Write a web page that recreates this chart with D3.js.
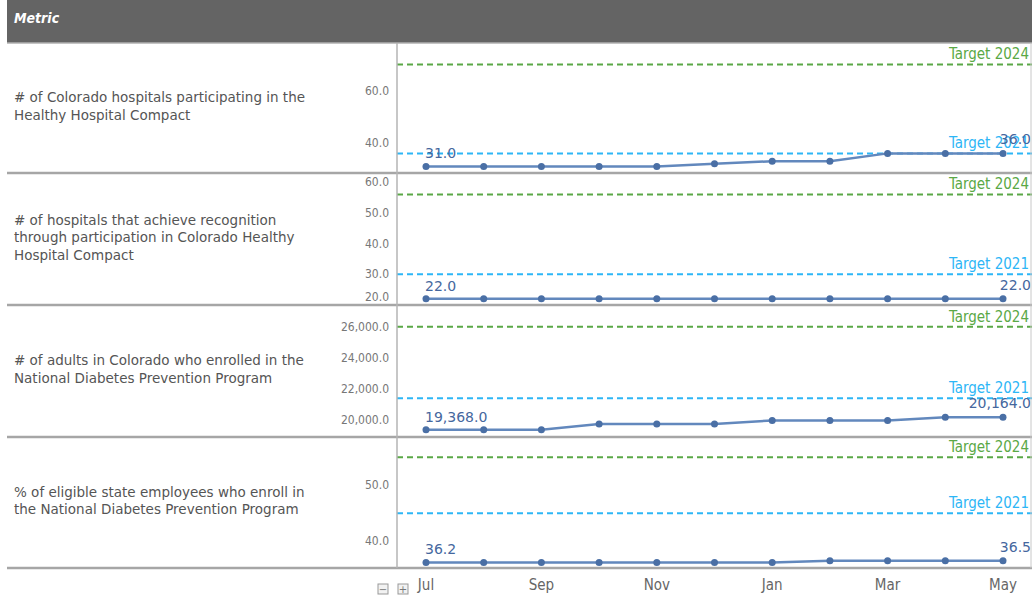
<!DOCTYPE html>
<html>
<head>
<meta charset="utf-8">
<script src="https://cdn.jsdelivr.net/npm/d3@7"></script>
<style>
body { margin: 0; background: #fff; }
svg { font-family: "DejaVu Sans", sans-serif; }
</style>
</head>
<body>
<svg width="1032" height="601"></svg>
<script>
// months on the x axis
const months = ["Jul","Aug","Sep","Oct","Nov","Dec","Jan","Feb","Mar","Apr","May"];
const shownMonths = ["Jul","Sep","Nov","Jan","Mar","May"];

const metricLabels = [
	["# of Colorado hospitals participating in the", "Healthy Hospital Compact"],
	["# of hospitals that achieve recognition", "through participation in Colorado Healthy", "Hospital Compact"],
	["# of adults in Colorado who enrolled in the", "National Diabetes Prevention Program"],
	["% of eligible state employees who enroll in", "the National Diabetes Prevention Program"]
];

const hospitalsParticipating = [31, 31, 31, 31, 31, 32, 33, 33, 36, 36, 36];
const hospitalsRecognized    = [22, 22, 22, 22, 22, 22, 22, 22, 22, 22, 22];
const adultsEnrolled         = [19368, 19368, 19368, 19740, 19740, 19740, 19970, 19970, 19970, 20164, 20164];
const employeesEnrolled      = [36.2, 36.2, 36.2, 36.2, 36.2, 36.2, 36.2, 36.5, 36.5, 36.5, 36.5];
const seriesList = [hospitalsParticipating, hospitalsRecognized, adultsEnrolled, employeesEnrolled];

const target2021 = [36, 30, 21400, 45];
const target2024 = [70, 56, 26000, 55];

const yDomains = [[28.5, 78.2], [20, 63], [18900, 27400], [35.2, 58.6]];
const yTicks = [[40, 60], [20, 30, 40, 50, 60], [20000, 22000, 24000, 26000], [40, 50]];

const svg = d3.select("svg");
const left = 7, right = 1032, split = 397;
const rowTops = [43, 173, 305, 437], rowBottoms = [173, 305, 437, 568];
const cond = "'DejaVu Sans Condensed', 'DejaVu Sans', sans-serif";

const x = d3.scalePoint().domain(months).range([426, 1003]);
const fmt = d3.format(",.1f");

// header
svg.append("rect").attr("x", left).attr("y", 0).attr("width", right - left).attr("height", 43)
	.style("fill", "#646464");
svg.append("line").attr("x1", left).attr("x2", right).attr("y1", 43).attr("y2", 43)
	.style("stroke", "#b0b0b0").style("stroke-width", 1.5);
svg.append("text").attr("x", 14).attr("y", 23).text("Metric").style("font-family", cond)
	.style("fill", "#fff").style("font-size", "14px").style("font-weight", "bold").style("font-style", "italic");

seriesList.forEach(function(vals, r) {
	const top = rowTops[r], bot = rowBottoms[r];
	const y = d3.scaleLinear().domain(yDomains[r]).range([bot, top]);
	const g = svg.append("g");

	// metric label, centred in the row
	const lines = metricLabels[r];
	const mid = (top + bot) / 2 - (lines.length - 1) * 17.5 / 2;
	g.append("text").attr("x", 14).attr("y", mid + 3).style("fill", "#555").style("font-size", "13.5px")
		.selectAll("tspan").data(lines).enter().append("tspan")
		.attr("x", 14).attr("dy", (d, i) => i ? 17.5 : 0).text(d => d);

	// y tick labels
	g.selectAll(".tick").data(yTicks[r]).enter().append("text")
		.attr("x", 389).attr("y", d => Math.min(y(d), bot - 8) + 4)
		.attr("text-anchor", "end").style("fill", "#777")
		.style("font-family", cond).style("font-size", "12px")
		.text(d => fmt(d));

	// targets
	[[target2024[r], "#5aa846", "Target 2024"], [target2021[r], "#2db6f6", "Target 2021"]].forEach(function(t) {
		g.append("line").attr("x1", split).attr("x2", right).attr("y1", y(t[0])).attr("y2", y(t[0]))
			.style("stroke", t[1]).style("stroke-width", 2).style("stroke-dasharray", "6,4");
		g.append("text").attr("x", 1029).attr("y", y(t[0]) - 5).attr("text-anchor", "end")
			.style("fill", t[1]).style("font-family", cond).style("font-size", "15px").text(t[2]);
	});

	// series line + markers
	const line = d3.line().x((d, i) => x(months[i])).y(d => y(d));
	g.append("path").datum(vals).attr("d", line)
		.style("fill", "none").style("stroke", "#6288bd").style("stroke-width", 2.5);
	g.selectAll("circle").data(vals).enter().append("circle")
		.attr("cx", (d, i) => x(months[i])).attr("cy", d => y(d)).attr("r", 3.5)
		.style("fill", "#4a6fa5");

	// first and last value labels
	g.append("text").attr("x", x(months[0]) - 1).attr("y", y(vals[0]) - 8)
		.style("fill", "#45679e").style("font-size", "14px").text(fmt(vals[0]));
	g.append("text").attr("x", 1031).attr("y", y(vals[vals.length - 1]) - 9).attr("text-anchor", "end")
		.style("fill", "#45679e").style("font-size", "14px").text(fmt(vals[vals.length - 1]));

	// row separator
	svg.append("line").attr("x1", left).attr("x2", right).attr("y1", bot).attr("y2", bot)
		.style("stroke", "#a6a6a6").style("stroke-width", 2.5);
});

// panel borders
svg.append("line").attr("x1", split).attr("x2", split).attr("y1", 43).attr("y2", 568)
	.style("stroke", "#b5b5b5").style("stroke-width", 1.5);
svg.append("line").attr("x1", 1031).attr("x2", 1031).attr("y1", 43).attr("y2", 568)
	.style("stroke", "#c8c8c8").style("stroke-width", 1);

// x axis labels
svg.selectAll(".xl").data(shownMonths).enter().append("text")
	.attr("x", d => x(d)).attr("y", 590).attr("text-anchor", "middle")
	.style("fill", "#666").style("font-family", cond).style("font-size", "15px").text(d => d);

// collapse / expand icons
[[378, "−"], [398, "+"]].forEach(function(b) {
	svg.append("rect").attr("x", b[0]).attr("y", 584).attr("width", 10).attr("height", 10)
		.style("fill", "#f2f2f2").style("stroke", "#999").style("stroke-width", 1);
	svg.append("text").attr("x", b[0] + 5).attr("y", 593).attr("text-anchor", "middle")
		.style("fill", "#777").style("font-size", "10px").text(b[1]);
});
</script>
</body>
</html>
